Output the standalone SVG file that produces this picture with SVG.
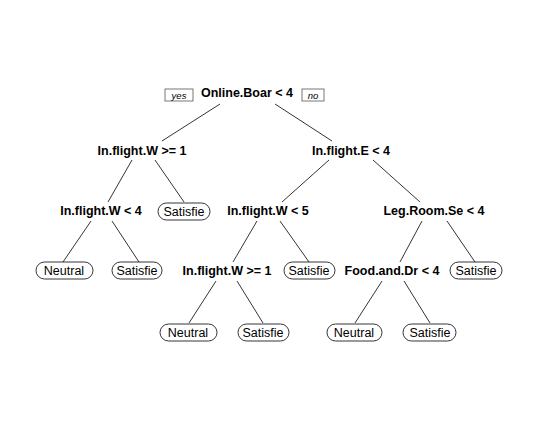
<svg xmlns="http://www.w3.org/2000/svg" width="538" height="424" viewBox="0 0 538 424">
<style>
.split{font-family:"Liberation Sans",Arial,sans-serif;font-weight:bold;font-size:12.5px;text-anchor:middle;fill:#000}
.leaf text{font-family:"Liberation Sans",Arial,sans-serif;font-size:12.5px;text-anchor:middle;fill:#000}
.leaf rect{fill:#fff;stroke:#000;stroke-width:0.8}
.yn rect{fill:#fff;stroke:#555;stroke-width:0.8}
.yn text{font-family:"Liberation Sans",Arial,sans-serif;font-style:italic;font-size:9.5px;text-anchor:middle;fill:#000}
#connectors line{stroke:#000;stroke-width:0.8}
</style>
<rect width="538" height="424" fill="#fff"/>
<g id="connectors">
<line x1="220" y1="104" x2="162" y2="141"/>
<line x1="275" y1="104" x2="332" y2="141"/>
<line x1="132" y1="160" x2="108" y2="202"/>
<line x1="155" y1="160" x2="184" y2="202"/>
<line x1="329" y1="160" x2="282" y2="202"/>
<line x1="373" y1="160" x2="420" y2="202"/>
<line x1="91" y1="221" x2="63" y2="262"/>
<line x1="112" y1="221" x2="139" y2="262"/>
<line x1="257" y1="221" x2="233" y2="262"/>
<line x1="280" y1="221" x2="309" y2="262"/>
<line x1="422" y1="221" x2="400" y2="262"/>
<line x1="447" y1="221" x2="475" y2="262"/>
<line x1="216" y1="281" x2="189" y2="323"/>
<line x1="237" y1="281" x2="263" y2="323"/>
<line x1="382" y1="281" x2="355" y2="323"/>
<line x1="404" y1="281" x2="430" y2="323"/>
</g>
<g id="yes" class="yn"><rect x="165" y="89" width="28" height="12"/><text x="179" y="98.5">yes</text></g>
<g id="no" class="yn"><rect x="302" y="89" width="22" height="12"/><text x="313" y="98.5">no</text></g>
<g id="n1"><text class="split" x="247" y="97">Online.Boar &lt; 4</text></g>
<g id="n2"><text class="split" x="142" y="155">In.flight.W &gt;= 1</text></g>
<g id="n3"><text class="split" x="351" y="155">In.flight.E &lt; 4</text></g>
<g id="n4"><text class="split" x="101" y="215">In.flight.W &lt; 4</text></g>
<g id="n5" class="leaf"><rect x="158" y="203" width="52" height="17" rx="8.5"/><text x="184" y="216">Satisfie</text></g>
<g id="n6"><text class="split" x="268" y="215">In.flight.W &lt; 5</text></g>
<g id="n7"><text class="split" x="434" y="215">Leg.Room.Se &lt; 4</text></g>
<g id="n8" class="leaf"><rect x="36" y="262" width="57" height="17" rx="8.5"/><text x="64" y="275">Neutral</text></g>
<g id="n9" class="leaf"><rect x="112" y="262" width="50" height="17" rx="8.5"/><text x="137" y="275">Satisfie</text></g>
<g id="n10"><text class="split" x="227" y="275">In.flight.W &gt;= 1</text></g>
<g id="n11" class="leaf"><rect x="284" y="262" width="51" height="17" rx="8.5"/><text x="309" y="275">Satisfie</text></g>
<g id="n12"><text class="split" x="392" y="275">Food.and.Dr &lt; 4</text></g>
<g id="n13" class="leaf"><rect x="450" y="262" width="52" height="17" rx="8.5"/><text x="476" y="275">Satisfie</text></g>
<g id="n14" class="leaf"><rect x="160" y="324" width="57" height="17" rx="8.5"/><text x="188" y="337">Neutral</text></g>
<g id="n15" class="leaf"><rect x="238" y="324" width="51" height="17" rx="8.5"/><text x="263" y="337">Satisfie</text></g>
<g id="n16" class="leaf"><rect x="327" y="324" width="55" height="17" rx="8.5"/><text x="354" y="337">Neutral</text></g>
<g id="n17" class="leaf"><rect x="403" y="324" width="53" height="17" rx="8.5"/><text x="430" y="337">Satisfie</text></g>
</svg>
